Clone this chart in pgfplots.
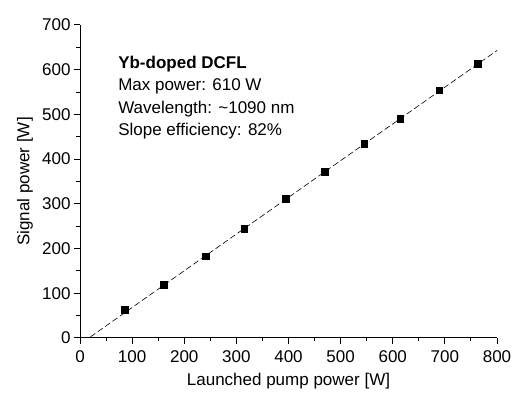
\documentclass[border=0pt]{standalone}
\usepackage{pgfplots}
\pgfplotsset{compat=1.18}
\usepackage{fontspec}
\setmainfont{Liberation Sans}
\begin{document}
\begin{tikzpicture}
\begin{axis}[
  name=ax,
  scale only axis,
  width=417pt, height=313pt,
  xmin=0, xmax=800, ymin=0, ymax=700,
  axis lines=left,
  axis line style={-, line width=1pt},
  xtick={0,100,...,800}, ytick={0,100,...,700},
  minor tick num=1,
  tick align=outside,
  major tick length=6pt, minor tick length=3.5pt,
  tick style={black, line width=1pt},
  /pgf/number format/assume math mode=true,
  ticklabel style={font=\fontsize{17pt}{20pt}\selectfont},
  xticklabel style={yshift=-3pt},
  xlabel={Launched pump power [W]},
  ylabel={Signal power [W]},
  every axis x label/.style={at={(rel axis cs:0.5,0)}, anchor=center, yshift=-43pt, font=\fontsize{17pt}{20pt}\selectfont},
  every axis y label/.style={at={(rel axis cs:0,0.5)}, anchor=center, rotate=90, yshift=55pt, font=\fontsize{17pt}{20pt}\selectfont},
  clip=false,
]
\addplot[black, dashed, line width=0.6pt, dash pattern=on 6pt off 3pt] coordinates {(20,2.5) (800,643)};
\addplot[only marks, mark=square*, mark size=3.3pt, black] coordinates {
(86,63) (161,119) (241,183) (315,244) (395,311) (469,372) (545,435) (614,491) (689,554) (763,614)
};
\node[anchor=north west, inner sep=0pt, align=left, font=\fontsize{17pt}{22.5pt}\selectfont] at (axis cs:73,631)
  {\textbf{Yb-doped DCFL}\\Max power: 610 W\\Wavelength: \textasciitilde1090 nm\\Slope efficiency: 82\%};
\end{axis}
\pgfresetboundingbox
\path (ax.south west) ++(-80pt,-60pt) coordinate (bl);
\path (ax.north east) ++(16pt,25pt) coordinate (tr);
\path[use as bounding box] (bl) rectangle (tr);
\end{tikzpicture}
\end{document}
